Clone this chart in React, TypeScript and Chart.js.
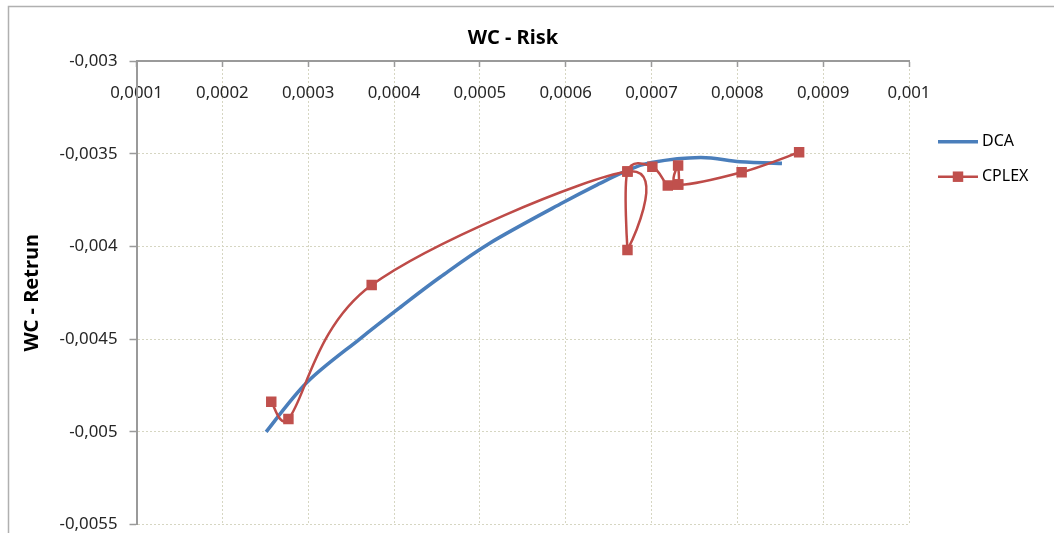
import React, { useEffect, useRef } from 'react';
import { Chart, registerables } from 'chart.js';

Chart.register(...registerables);

const chartTitle = 'WC - Risk';
const yAxisTitle = 'WC - Retrun';
const seriesNames = ['DCA', 'CPLEX'];

const xTicks = [0.0001, 0.0002, 0.0003, 0.0004, 0.0005, 0.0006, 0.0007, 0.0008, 0.0009, 0.001];
const yTicks = [-0.0055, -0.005, -0.0045, -0.004, -0.0035, -0.003];

const dcaRisk = [0.000251, 0.000299, 0.00036, 0.000407, 0.000454, 0.000512, 0.000597, 0.00064, 0.000672, 0.0007, 0.000757, 0.000803, 0.000852];
const dcaReturn = [-0.005, -0.004731, -0.004499, -0.004329, -0.004165, -0.003981, -0.003763, -0.00366, -0.00359, -0.003547, -0.00352, -0.003543, -0.003552];

const cplexRisk = [0.000257, 0.000277, 0.000374, 0.000672, 0.000672, 0.000672, 0.000701, 0.000719, 0.000731, 0.000731, 0.000731, 0.000805, 0.000872];
const cplexReturn = [-0.004837, -0.00493, -0.004208, -0.003596, -0.004019, -0.003596, -0.00357, -0.003671, -0.003666, -0.003563, -0.003666, -0.0036, -0.003492];

const FONT = "'Noto Sans', 'Open Sans', sans-serif";
const BLUE = '#4a7ebb';
const RED = '#be4b48';
const RED_FILL = '#c0504d';
const AXIS = '#9a9a9a';
const GRID = '#d6d6c2';
const TEXT = '#262626';

const fmt = (v: number) => String(parseFloat(Number(v).toFixed(6))).replace('.', ',');

// Excel-like smoothing: unweighted Catmull-Rom (1/6) control points, capped per segment
const excelSmooth = {
  id: 'excelSmooth',
  beforeDatasetDraw(chart: any, args: any) {
    const meta = args.meta;
    const line = meta.dataset;
    if (!line) return;
    const pts = meta.data;
    const n = pts.length;
    const cap = 0.55;
    for (let i = 0; i < n; i++) {
      const p = pts[i];
      const prev = pts[Math.max(0, i - 1)];
      const next = pts[Math.min(n - 1, i + 1)];
      const dx = (next.x - prev.x) / 6;
      const dy = (next.y - prev.y) / 6;
      const mag = Math.hypot(dx, dy);
      const lPrev = Math.hypot(p.x - prev.x, p.y - prev.y);
      const lNext = Math.hypot(next.x - p.x, next.y - p.y);
      const k1 = mag > 0 ? Math.min(1, (cap * lPrev) / mag) : 0;
      const k2 = mag > 0 ? Math.min(1, (cap * lNext) / mag) : 0;
      p.cp1x = p.x - dx * k1;
      p.cp1y = p.y - dy * k1;
      p.cp2x = p.x + dx * k2;
      p.cp2y = p.y + dy * k2;
    }
    line.updateControlPoints = () => {};
    line._pointsUpdated = true;
    line._path = undefined;
  },
};

const frame = {
  id: 'frame',
  beforeDraw(chart: any) {
    const ctx = chart.ctx;
    ctx.save();
    ctx.strokeStyle = '#b0b0b0';
    ctx.lineWidth = 1.5;
    ctx.beginPath();
    ctx.moveTo(8.5, chart.height);
    ctx.lineTo(8.5, 6.5);
    ctx.lineTo(chart.width, 6.5);
    ctx.stroke();
    ctx.restore();
  },
};

const sideLegend = {
  id: 'sideLegend',
  afterDraw(chart: any) {
    const ctx = chart.ctx;
    const lx0 = 938;
    const lx1 = 978;
    const tx = 982;
    const y0 = 141.7;
    const dy = 35;
    chart.data.datasets.forEach((ds: any, i: number) => {
      const y = y0 + i * dy;
      ctx.save();
      ctx.strokeStyle = ds.borderColor;
      ctx.lineWidth = ds.borderWidth;
      ctx.beginPath();
      ctx.moveTo(lx0, y);
      ctx.lineTo(lx1, y);
      ctx.stroke();
      if (ds.pointRadius > 0) {
        const s = ds.pointRadius * Math.SQRT1_2;
        ctx.fillStyle = ds.pointBackgroundColor;
        ctx.fillRect((lx0 + lx1) / 2 - s, y - s, 2 * s, 2 * s);
      }
      ctx.fillStyle = '#000';
      ctx.font = `16px ${FONT}`;
      ctx.textBaseline = 'middle';
      ctx.textAlign = 'left';
      ctx.fillText(ds.label, tx, y);
      ctx.restore();
    });
  },
};

export default function App() {
  const ref = useRef<HTMLCanvasElement | null>(null);

  useEffect(() => {
    if (!ref.current) return;
    const tickFont = { family: FONT, size: 16.8 };
    const chart = new Chart(ref.current, {
      type: 'line',
      data: {
        datasets: [
          {
            label: seriesNames[0],
            data: dcaRisk.map((x, i) => ({ x, y: dcaReturn[i] })),
            borderColor: BLUE,
            backgroundColor: BLUE,
            borderWidth: 3.6,
            pointRadius: 0,
            pointHoverRadius: 0,
            tension: 0.4,
            borderJoinStyle: 'round',
            fill: false,
            order: 2,
          },
          {
            label: seriesNames[1],
            data: cplexRisk.map((x, i) => ({ x, y: cplexReturn[i] })),
            borderColor: RED,
            backgroundColor: RED_FILL,
            borderWidth: 2.5,
            pointStyle: 'rect',
            pointRadius: 7.4,
            pointHoverRadius: 7.4,
            pointBackgroundColor: RED_FILL,
            pointBorderColor: RED_FILL,
            pointBorderWidth: 0,
            tension: 0.4,
            borderJoinStyle: 'round',
            fill: false,
            order: 1,
          },
        ],
      } as any,
      options: {
        responsive: false,
        animation: false,
        devicePixelRatio: 1,
        layout: { padding: { left: 0, right: 28, top: 0, bottom: 0 } },
        plugins: {
          legend: { display: false },
          tooltip: { enabled: false },
          title: {
            display: true,
            text: chartTitle,
            color: '#000',
            font: { family: FONT, size: 20, weight: 'bold' },
            padding: { top: 26.5, bottom: 10.5 },
          },
        },
        scales: {
          x: {
            type: 'linear',
            position: { y: -0.003 } as any,
            min: 0.0001,
            max: 0.001,
            afterBuildTicks: (s: any) => {
              s.ticks = xTicks.map((v) => ({ value: v }));
            },
            afterFit: (s: any) => {
              s.height = 0;
            },
            grid: { color: GRID, lineWidth: 1, tickLength: 5, tickColor: AXIS, tickWidth: 1.5, tickBorderDash: [] },
            border: { display: true, color: AXIS, width: 2, dash: [2, 2] },
            ticks: {
              font: tickFont,
              color: TEXT,
              padding: 17,
              maxRotation: 0,
              autoSkip: false,
              callback: (v: any) => fmt(v),
            },
          },
          y: {
            type: 'linear',
            position: 'left',
            min: -0.0055,
            max: -0.003,
            afterBuildTicks: (s: any) => {
              s.ticks = yTicks.map((v) => ({ value: v }));
            },
            afterFit: (s: any) => {
              s.width = 136.5;
              s.paddingTop = 0;
              s.paddingBottom = 8.3;
            },
            grid: { color: GRID, lineWidth: 1, tickLength: 7, tickColor: AXIS, tickWidth: 1.5, tickBorderDash: [] },
            border: { display: true, color: AXIS, width: 2, dash: [2, 2] },
            ticks: {
              font: tickFont,
              color: TEXT,
              padding: 12,
              autoSkip: false,
              callback: (v: any) => fmt(v),
            },
            title: {
              display: true,
              text: yAxisTitle,
              color: '#000',
              font: { family: FONT, size: 20, weight: 'bold' },
              padding: { top: 20.5, bottom: 0 },
            },
          },
          y2: {
            type: 'linear',
            position: 'right',
            display: true,
            grid: { display: false },
            border: { display: false },
            ticks: { display: false },
            afterFit: (s: any) => {
              s.width = 117;
            },
          },
        },
      } as any,
      plugins: [frame, excelSmooth, sideLegend],
    });
    return () => chart.destroy();
  }, []);

  return (
    <div style={{ position: 'absolute', left: 0, top: 0, width: 1054, height: 533, background: '#fff' }}>
      <canvas ref={ref} width={1054} height={533} style={{ display: 'block' }} />
    </div>
  );
}
